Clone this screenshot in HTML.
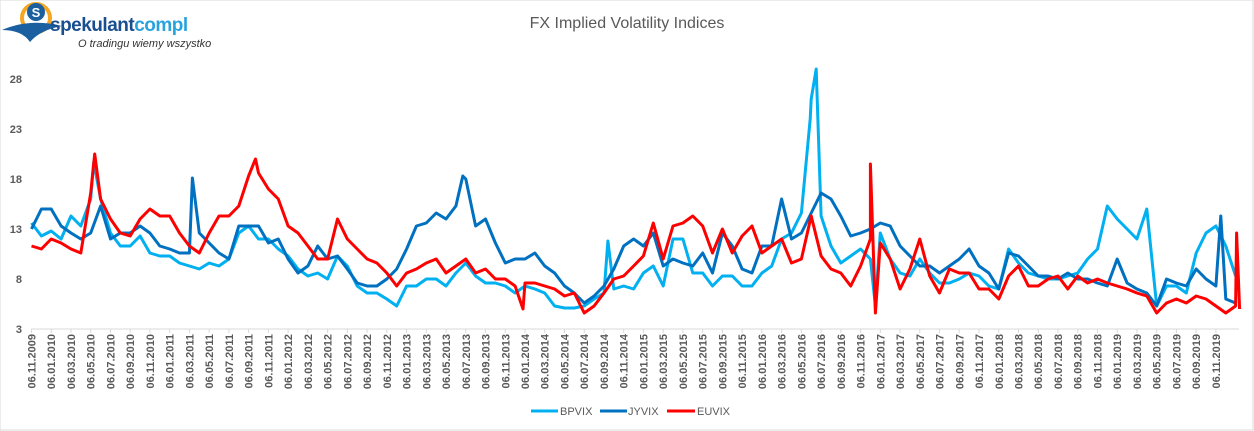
<!DOCTYPE html>
<html><head><meta charset="utf-8"><style>
body{margin:0;background:#fff;}
svg{display:block;font-family:"Liberation Sans",sans-serif;}
</style></head><body>
<svg id="c" width="1254" height="431" viewBox="0 0 1254 431">
<rect x="0" y="0" width="1253" height="430" fill="#fff" stroke="#d9d9d9"/>
<g>
<circle cx="36" cy="18" r="14" fill="none" stroke="#f5a623" stroke-width="4"/>
<circle cx="36" cy="12" r="9" fill="#1a5fa0"/>
<text x="36" y="17" font-size="13" font-weight="bold" fill="#fff" text-anchor="middle">S</text>
<path d="M2,30 Q30,18 62,26 Q40,30 30,42 Q22,30 2,30Z" fill="#1a5fa0"/>
<text x="50" y="31" font-size="19" font-weight="bold" fill="#1a4f8f" letter-spacing="-0.5">spekulant<tspan fill="#29a3dd">compl</tspan></text>
<text x="78" y="47" font-size="11" font-style="italic" fill="#333">O tradingu wiemy wszystko</text>
</g>
<text x="627" y="28" font-size="16" fill="#595959" text-anchor="middle">FX Implied Volatility Indices</text>
<g id="yaxis"></g>
<g id="xaxis"></g>
<g id="series"></g>
<g>
<g><line x1="531" y1="411" x2="558" y2="411" stroke="#00b0f0" stroke-width="3"/><text x="560" y="415" font-size="11" fill="#595959">BPVIX</text></g>
<g><line x1="600" y1="411" x2="627" y2="411" stroke="#0070c0" stroke-width="3"/><text x="628" y="415" font-size="11" fill="#595959">JYVIX</text></g>
<g><line x1="667" y1="411" x2="695" y2="411" stroke="#ff0000" stroke-width="3"/><text x="697" y="415" font-size="11" fill="#595959">EUVIX</text></g>
</g>
</svg>
<script>
const yTicks=[3,8,13,18,23,28];
const xLabelYears=[2009,2010,2010,2010,2010,2010,2010,2011,2011,2011,2011,2011,2011,2012,2012,2012,2012,2012,2012,2013,2013,2013,2013,2013,2013,2014,2014,2014,2014,2014,2014,2015,2015,2015,2015,2015,2015,2016,2016,2016,2016,2016,2016,2017,2017,2017,2017,2017,2017,2018,2018,2018,2018,2018,2018,2019,2019,2019,2019,2019,2019];
const xLabelMonths=["11","01","03","05","07","09"];
const bpvix=[13.6,12.3,12.8,12,14.3,13.3,16,16,12.6,11.3,11.3,12.3,10.6,10.3,10.3,9.6,9.3,9,9.6,9.3,10,12.6,13.3,12,12,11,10.3,9,8.3,8.6,8,10.3,9.3,7.3,6.6,6.6,6,5.3,7.3,7.3,8,8,7.3,8.6,9.6,8.3,7.6,7.6,7.3,6.6,7.3,7,6.6,5.3,5.1,5.1,5.3,6,6.6,7,7.3,7,8.6,9.3,7.3,12,12,8.6,8.6,7.3,8.3,8.3,7.3,7.3,8.6,9.3,12,12.6,14.6,26,14.3,11.3,9.6,10.3,11,10,12.6,10,8.6,8.3,10,8.6,7.6,7.6,8,8.6,8.3,7.3,7,11,9.6,8.6,8.3,8,8,8.3,8.6,10,11,15.3,14,13,12,15,5.3,7.3,7.3,6.6,10.6,12.6,13.3,11.3,8.3];
const jyvix=[13,15,15,13.3,12.6,12,12.6,15.3,12,12.6,12.6,13.3,12.6,11.3,11,10.6,10.6,12.6,11.6,10.6,10,13.3,13.3,13.3,11.6,12,10,8.6,9.3,11.3,10,10.3,9,7.6,7.3,7.3,8,9,11,13.3,13.6,14.6,14,15.3,18,13.3,14,11.6,9.6,10,10,10.6,9.3,8.6,7.3,6.6,5.6,6.3,7.3,9,11.3,12,11.3,12.6,9.3,10,9.6,9.3,10.6,8.6,12.6,11.3,9,8.6,11.3,11.3,16,12,12.6,14.6,16.6,16,14.3,12.3,12.6,13,13.6,13.3,11.3,10.3,9.3,9.3,8.6,9.3,10,11,9.3,8.6,7,10.6,10.3,9.3,8.3,8.3,8,8.6,8,8,7.6,7.3,10,7.6,7,6.6,5.3,8,7.6,7.3,9,8,7.3,6,5.6];
const euvix=[11.3,11,12,11.6,11,10.6,16.6,16,14,12.6,12.3,14,15,14.3,14.3,12.6,11.3,10.6,12.6,14.3,14.3,15.3,18.3,18.6,17,16,13.3,12.6,11.3,10,10,14,12,11,10,9.6,8.6,7.3,8.6,9,9.6,10,8.6,9.3,10,8.6,9,8,8,7.3,7.6,7.6,7.3,7,6.3,6.6,4.6,5.3,6.6,8,8.3,9.3,10.3,13.6,10,13.3,13.6,14.3,13.3,10.6,13,10.6,12.3,13.3,10.6,11.3,12,9.6,10,14.3,10.3,9,8.6,7.3,9.3,12,11.6,10,7,9,12,8.3,6.6,9,8.6,8.6,7,7,6,8.3,9.3,7.3,7.3,8,8.3,7,8.3,7.6,8,7.6,7.3,7,6.6,6.3,4.6,5.6,6,5.6,6.3,6,5.3,4.6,5.3];
const bpSpikeT=[6.3,58.4,78.9,79.5,85.5];
const bpSpikeV=[19.7,11.8,24,29,5.3];
const jySpikeT=[16.3,43.7,120.5];
const jySpikeV=[18.1,18.3,14.3];
const euSpikeT=[6.4,22.7,49.8,85,85.5,122.1,122.4];
const euSpikeV=[20.5,20,5,19.5,4.6,12.6,5];

const NS="http://www.w3.org/2000/svg";
const x0=31.5,monthW=9.87,yBase=329,pxPerUnit=10;
function xScale(t){return x0+t*monthW;}
function yScale(v){return yBase-(v-3)*pxPerUnit;}
function mk(tag,attrs,parent){const e=document.createElementNS(NS,tag);for(const k in attrs)e.setAttribute(k,attrs[k]);parent.appendChild(e);return e;}

const ya=document.getElementById('yaxis');
yTicks.forEach(v=>{
  const t=mk('text',{x:22,y:yScale(v)+4,'font-size':11,'font-weight':'bold',fill:'#595959','text-anchor':'end'},ya);
  
  
  t.textContent=v;
});
const xa=document.getElementById('xaxis');
const axl=mk('line',{x1:x0,y1:yBase,x2:1239,y2:yBase,stroke:'#d9d9d9','stroke-width':1},xa);


xLabelYears.forEach((yr,i)=>{
  const x=xScale(i*2);
  mk('line',{x1:x,y1:yBase,x2:x,y2:yBase+4,stroke:'#d9d9d9'},xa);
  const t=mk('text',{x:0,y:0,'font-size':11,'font-weight':'bold',fill:'#595959','text-anchor':'end',transform:`translate(${x+4},${yBase+5}) rotate(-90)`},xa);
  
  
  t.textContent='06.'+xLabelMonths[i%6]+'.'+yr;
});

function buildPts(vals,st,sv){
  const pts=vals.map((v,i)=>[i,v]);
  st.forEach((t,k)=>pts.push([t,sv[k]]));
  pts.sort((a,b)=>a[0]-b[0]);
  return pts.map(p=>xScale(p[0]).toFixed(1)+','+yScale(p[1]).toFixed(1)).join(' ');
}
const sg=document.getElementById('series');
const p1=mk('polyline',{points:buildPts(bpvix,bpSpikeT,bpSpikeV),fill:'none',stroke:'#00b0f0','stroke-width':3,'stroke-linejoin':'round'},sg);


const p2=mk('polyline',{points:buildPts(jyvix,jySpikeT,jySpikeV),fill:'none',stroke:'#0070c0','stroke-width':3,'stroke-linejoin':'round'},sg);


const p3=mk('polyline',{points:buildPts(euvix,euSpikeT,euSpikeV),fill:'none',stroke:'#ff0000','stroke-width':3,'stroke-linejoin':'round'},sg);


</script>
</body></html>
